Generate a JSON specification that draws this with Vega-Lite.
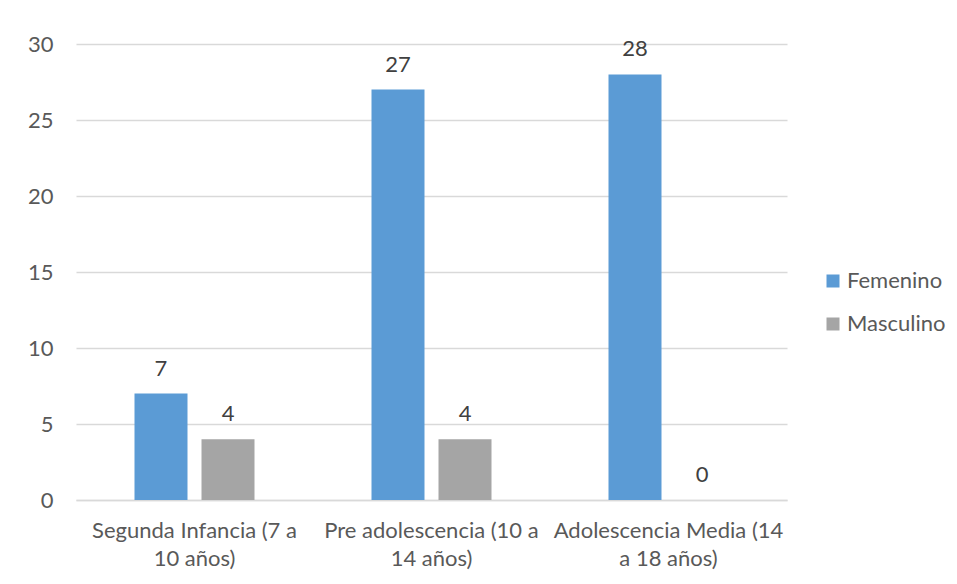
{
  "$schema": "https://vega.github.io/schema/vega-lite/v6.json",
  "width": 711,
  "height": 456,
  "autosize": {"type": "none"},
  "padding": {"left": 76, "top": 44, "right": 170, "bottom": 84},
  "background": "white",
  "data": {
    "values": [
      {"grupo": "Segunda Infancia (7 a 10 años)", "sexo": "Femenino", "n": 7},
      {"grupo": "Segunda Infancia (7 a 10 años)", "sexo": "Masculino", "n": 4},
      {"grupo": "Pre adolescencia (10 a 14 años)", "sexo": "Femenino", "n": 27},
      {"grupo": "Pre adolescencia (10 a 14 años)", "sexo": "Masculino", "n": 4},
      {"grupo": "Adolescencia Media (14 a 18 años)", "sexo": "Femenino", "n": 28},
      {"grupo": "Adolescencia Media (14 a 18 años)", "sexo": "Masculino", "n": 0}
    ]
  },
  "encoding": {
    "x": {
      "field": "grupo",
      "type": "nominal",
      "sort": null,
      "scale": {"paddingInner": 0, "paddingOuter": 0},
      "axis": {
        "title": null,
        "labelAngle": 0,
        "ticks": false,
        "domainColor": "#d9d9d9",
        "domainWidth": 1.3,
        "labelPadding": 20,
        "labelLineHeight": 28,
        "labelLimit": 0,
        "labelExpr": "datum.label == 'Segunda Infancia (7 a 10 años)' ? ['Segunda Infancia (7 a', '10 años)'] : datum.label == 'Pre adolescencia (10 a 14 años)' ? ['Pre adolescencia (10 a', '14 años)'] : ['Adolescencia Media (14', 'a 18 años)']"
      }
    },
    "xOffset": {
      "field": "sexo",
      "type": "nominal",
      "scale": {"paddingInner": 0.209, "paddingOuter": 0.873}
    },
    "y": {
      "field": "n",
      "type": "quantitative",
      "scale": {"domain": [0, 30]},
      "axis": {
        "title": null,
        "values": [0, 5, 10, 15, 20, 25, 30],
        "ticks": false,
        "domain": false,
        "gridColor": "#d9d9d9",
        "gridWidth": 1.3,
        "labelPadding": 23
      }
    }
  },
  "layer": [
    {
      "mark": {"type": "bar"},
      "encoding": {
        "color": {
          "field": "sexo",
          "type": "nominal",
          "scale": {"domain": ["Femenino", "Masculino"], "range": ["#5b9bd5", "#a5a5a5"]},
          "legend": {
            "title": null,
            "orient": "none",
            "legendX": 746,
            "legendY": 226,
            "symbolType": "square",
            "symbolSize": 169,
            "symbolStrokeWidth": 0,
            "labelFontSize": 22,
            "labelFont": "Lato",
            "labelColor": "#595959",
            "labelOffset": 3,
            "rowPadding": 21
          }
        }
      }
    },
    {
      "mark": {"type": "text", "baseline": "alphabetic", "dy": -18, "fontSize": 22, "font": "Lato", "color": "#404040"},
      "encoding": {"text": {"field": "n", "type": "quantitative"}}
    }
  ],
  "config": {
    "view": {"stroke": null},
    "axis": {"labelFont": "Lato", "labelFontSize": 22, "labelColor": "#595959"}
  }
}
